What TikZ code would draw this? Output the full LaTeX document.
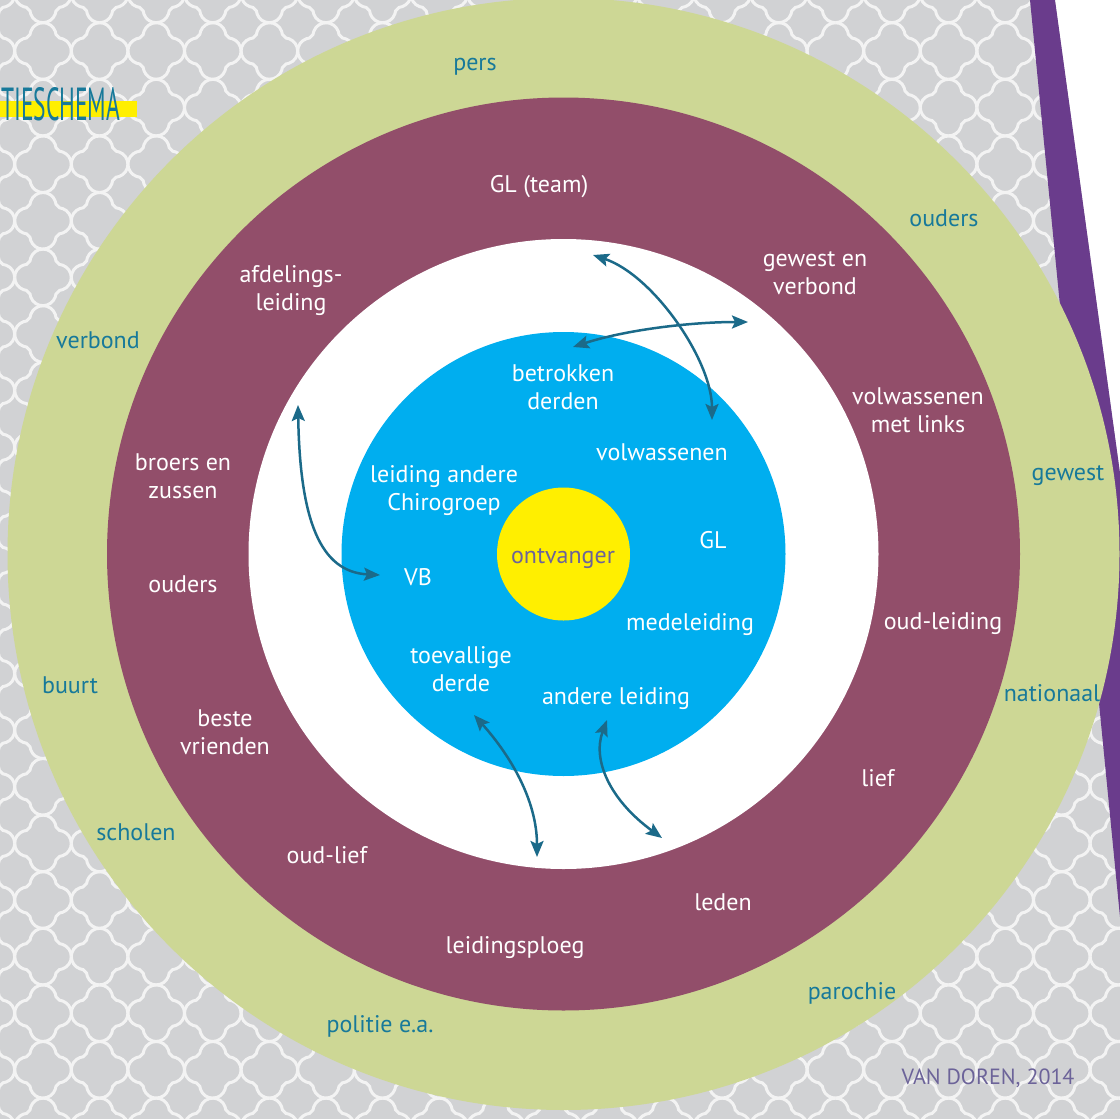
\documentclass[tikz,border=0pt]{standalone}
\usepackage{fontspec}
\setmainfont{PT Sans}
\usetikzlibrary{arrows.meta}

\definecolor{grijs}{HTML}{D1D2D4}
\definecolor{motief}{HTML}{F3F3F3}
\definecolor{paars}{HTML}{6A3C8C}
\definecolor{groen}{HTML}{CDD795}
\definecolor{bordeaux}{HTML}{924E6A}
\definecolor{blauw}{HTML}{00AEEF}
\definecolor{geel}{HTML}{FFEF00}
\definecolor{petrol}{HTML}{17799A}
\definecolor{pijlkleur}{HTML}{1B6A89}
\definecolor{lila}{HTML}{6C6399}

\begin{document}
\begin{tikzpicture}[x=1pt,y=-1pt,
    label/.style={font=\fontsize{24}{28}\selectfont, align=center, text=white},
    buiten/.style={label, text=petrol},
    pijl/.style={{Stealth[length=16pt,width=13pt,inset=3pt]}-{Stealth[length=16pt,width=13pt,inset=3pt]}, line width=2.5pt, draw=pijlkleur},
    tegel/.style={draw=motief, line width=3pt}]
    \clip (0,0) rectangle (1120,1119);
    \fill[grijs] (0,0) rectangle (1120,1119);
    % tegelmotief achtergrond
    \foreach \i in {-1,...,20}
        \foreach \j in {-1,...,19}
            \foreach \r in {0,90,180,270}
                \draw[tegel, shift={(43+56.6*\i,51+56.6*\j)}, rotate=\r]
                    (28.3,0) arc[start angle=0, end angle=70, radius=13]
                    -- (16.5,13) -- (13,16.5) -- (12.2,19.7)
                    arc[start angle=20, end angle=90, radius=13];
    \fill[white] (1055,0) -- (1120,0) -- (1120,473) -- cycle;
    \fill[paars] (1030,0) -- (1055,0) -- (1120,473) -- (1120,917) -- cycle;
    % titel
    \fill[geel] (0,101) rectangle (137,117);
    \node[anchor=west, inner sep=0, text=petrol] (titel) at (1,104) {\resizebox{119pt}{33pt}{TIESCHEMA}};
    % ringen
    \fill[groen] (563.5,554) circle[radius=556];
    \fill[bordeaux] (563.5,554) circle[radius=456.5];
    \fill[white] (563.5,554) circle[radius=315];
    \fill[blauw] (563.5,554) circle[radius=222];
    \fill[geel] (563.5,554) circle[radius=66.5];
    \node[label, text=lila] (ontvanger) at (563,559) {ontvanger};

    % buitenste ring
    \node[buiten] (pers) at (475,67) {pers};
    \node[buiten] (ouders2) at (944,218) {ouders};
    \node[buiten] (verbond2) at (98,340) {verbond};
    \node[buiten] (gewest) at (1068,476) {gewest};
    \node[buiten] (buurt) at (70,685) {buurt};
    \node[buiten] (nationaal) at (1052,693) {nationaal};
    \node[buiten] (scholen) at (136,832) {scholen};
    \node[buiten] (parochie) at (852,993) {parochie};
    \node[buiten] (politie) at (380,1026) {politie e.a.};

    % middelste ring
    \node[label] (glteam) at (539,187) {GL (team)};
    \node[label] (gewestverbond) at (815,273) {gewest en\\verbond};
    \node[label] (afdeling) at (291,291) {afdelings-\\leiding};
    \node[label] (volwlinks) at (918,410) {volwassenen\\met links};
    \node[label] (broers) at (183,476) {broers en\\zussen};
    \node[label] (ouders1) at (183,584) {ouders};
    \node[label] (oudleiding) at (943,624) {oud-leiding};
    \node[label] (vrienden) at (225,732) {beste\\vrienden};
    \node[label] (lief) at (878,778) {lief};
    \node[label] (oudlief) at (327,855) {oud-lief};
    \node[label] (leden) at (723,902) {leden};
    \node[label] (ploeg) at (515,948) {leidingsploeg};

    % binnenste ring
    \node[label] (derden) at (563,387) {betrokken\\derden};
    \node[label] (volw) at (662,452) {volwassenen};
    \node[label] (chiro) at (444,491) {leiding andere\\Chirogroep};
    \node[label] (gl) at (713,540) {GL};
    \node[label] (vb) at (418,577) {VB};
    \node[label] (mede) at (690,625) {medeleiding};
    \node[label] (toevallig) at (461,669) {toevallige\\derde};
    \node[label] (andere) at (616,699) {andere leiding};

    \node[font=\fontsize{22}{22}\selectfont, text=lila] (bron) at (988,1078) {VAN DOREN, 2014};

    % pijlen
    \coordinate (a1) at (593,255); \coordinate (a2) at (712,420);
    \coordinate (b1) at (748,322); \coordinate (b2) at (573,347);
    \coordinate (c1) at (298,405); \coordinate (c2) at (380,575);
    \coordinate (d1) at (474,715); \coordinate (d2) at (537,857);
    \coordinate (e1) at (607,720); \coordinate (e2) at (662,838);
    \draw[pijl] (a1) .. controls +(60,20) and +(0,-60) .. (a2);
    \draw[pijl] (b1) .. controls +(-58,0) and +(52,-17) .. (b2);
    \draw[pijl] (c1) .. controls +(2,115) and +(-60,-3) .. (c2);
    \draw[pijl] (d1) .. controls +(36,40) and +(0,-57) .. (d2);
    \draw[pijl] (e1) .. controls +(-15,40) and +(-52,-38) .. (e2);
\end{tikzpicture}
\end{document}
